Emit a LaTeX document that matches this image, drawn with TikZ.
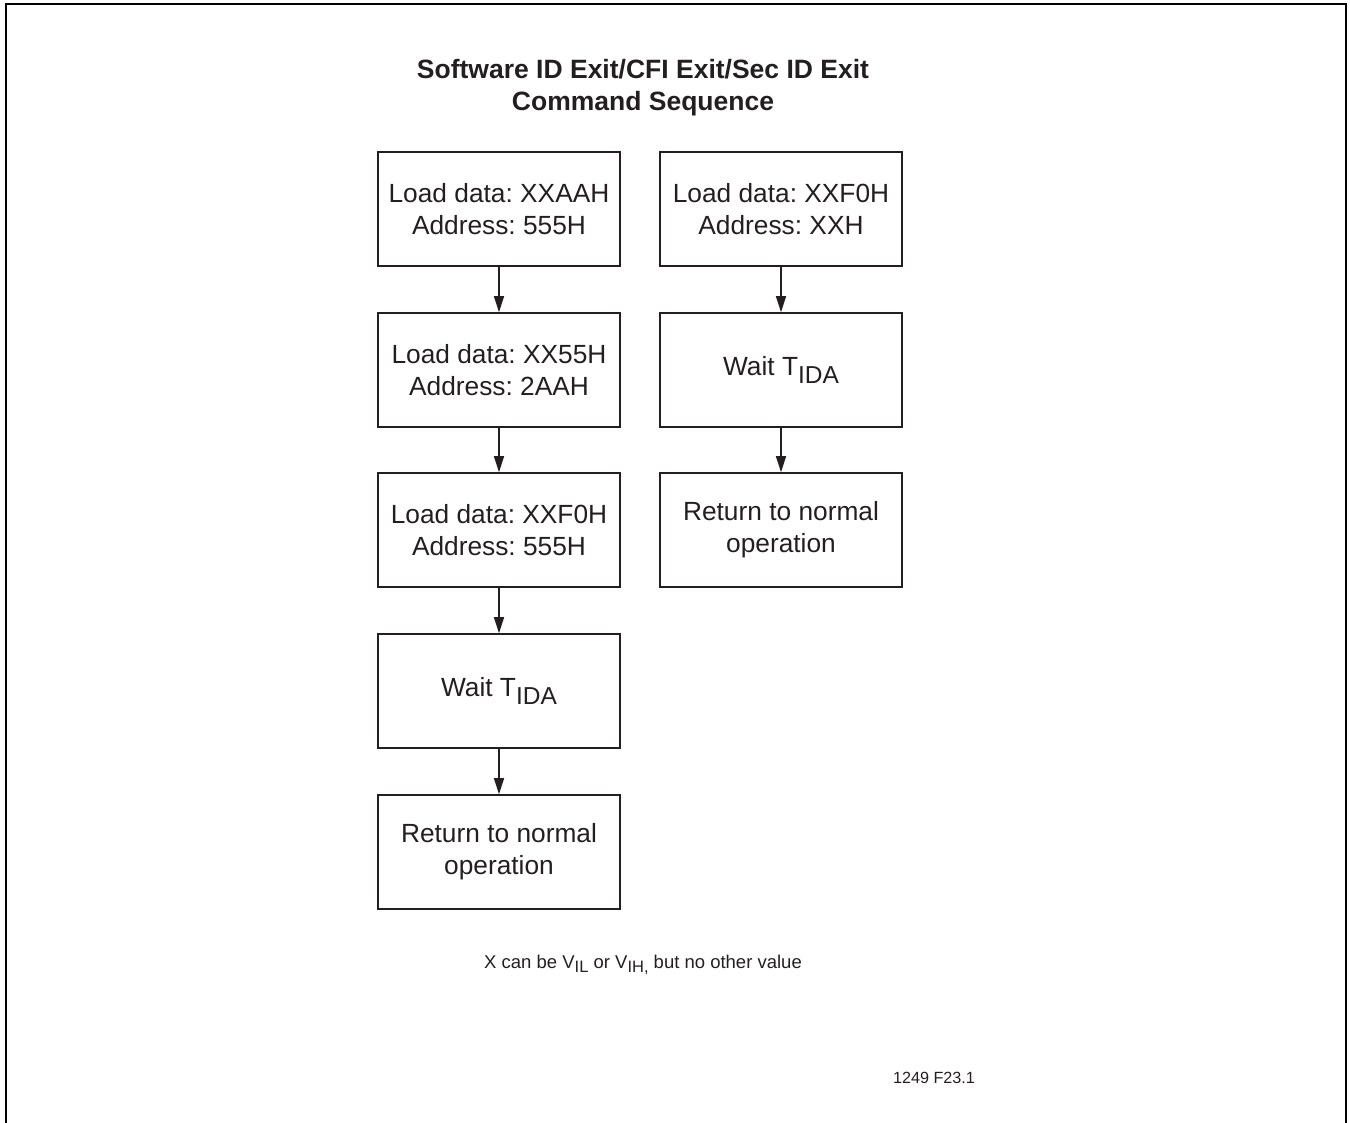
\documentclass[tikz,border=0pt]{standalone}
\usepackage{fontspec}
\setmainfont{Liberation Sans}
\usetikzlibrary{arrows.meta}
\definecolor{ink}{HTML}{231F20}
\newcommand{\lowsub}[1]{\raisebox{-0.3em}{\fontsize{24.5}{24.5}\selectfont #1}}
\newcommand{\notesub}[1]{\raisebox{-0.25em}{\fontsize{16.5}{16.5}\selectfont #1}}
\begin{document}
\frenchspacing
\begin{tikzpicture}[x=1pt,y=-1pt,
  stepbox/.style={draw=ink, line width=1.6pt, minimum width=242pt, minimum height=114pt,
    inner sep=0pt, align=center, text=ink, font=\fontsize{26.3}{32}\selectfont},
  flow/.style={draw=ink, line width=1.6pt, -{Triangle[length=16pt,width=10pt]}}]
\useasboundingbox (0,0) rectangle (1350,1123);
\draw[line width=2pt, black] (6,1123) -- (6,4) -- (1346,4) -- (1346,1123);
\node[text=ink, align=center, font=\bfseries\fontsize{26.5}{32}\selectfont] (title) at (643,88)
  {Software ID Exit/CFI Exit/Sec ID Exit\\Command Sequence};
% left column
\node[stepbox] (l1) at (499,209) {Load data: XXAAH\\Address: 555H};
\node[stepbox] (l2) at (499,370) {Load data: XX55H\\Address: 2AAH};
\node[stepbox] (l3) at (499,530) {Load data: XXF0H\\Address: 555H};
\node[stepbox] (l4) at (499,691) {Wait T\lowsub{IDA}};
\node[stepbox] (l5) at (499,852) {Return to normal\\operation};
% right column
\node[stepbox] (r1) at (781,209) {Load data: XXF0H\\Address: XXH};
\node[stepbox] (r2) at (781,370) {Wait T\lowsub{IDA}};
\node[stepbox] (r3) at (781,530) {Return to normal\\operation};
\draw[flow] (l1) -- (l2);
\draw[flow] (l2) -- (l3);
\draw[flow] (l3) -- (l4);
\draw[flow] (l4) -- (l5);
\draw[flow] (r1) -- (r2);
\draw[flow] (r2) -- (r3);
\node[text=ink, font=\fontsize{18.5}{22}\selectfont] (note) at (643,965)
  {X can be V\notesub{IL} or V\notesub{IH,} but no other value};
\node[text=ink, font=\fontsize{16.2}{20}\selectfont] (fig) at (934,1078) {1249 F23.1};
\end{tikzpicture}
\end{document}
